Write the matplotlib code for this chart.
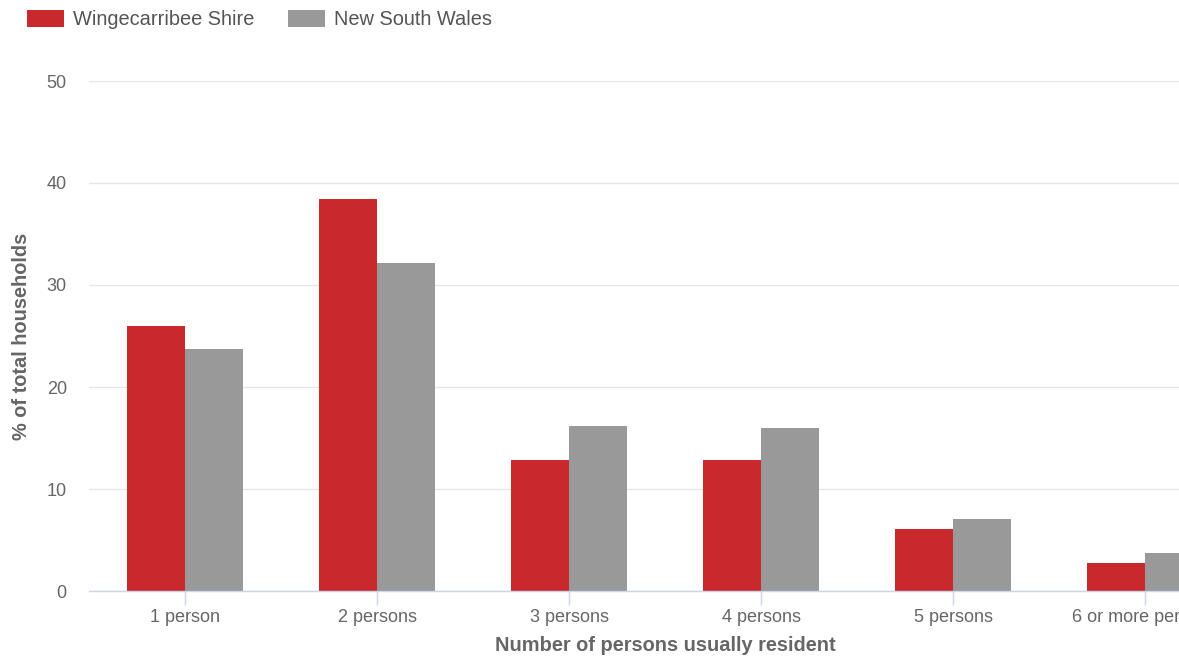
import matplotlib.pyplot as plt
import numpy as np

categories = ["1 person", "2 persons", "3 persons", "4 persons", "5 persons", "6 or more persons"]
wingecarribee = [26.0, 38.4, 12.8, 12.8, 6.1, 2.7]
nsw = [23.7, 32.2, 16.2, 16.0, 7.1, 3.7]
y_ticks = [0, 10, 20, 30, 40, 50]

plt.rcParams['font.family'] = ['Liberation Sans', 'DejaVu Sans']

W, H = 1179, 660
fig = plt.figure(figsize=(W / 100, H / 100), dpi=100)
# plot area runs past the right edge of the picture, as in the reference
ax = fig.add_axes([89 / W, 69 / H, (1241 - 89) / W, (591 - 81) / H])

x = np.arange(len(categories))
bw = 0.3
ax.bar(x - bw / 2, wingecarribee, bw, color="#c9282d", label="Wingecarribee Shire", zorder=3)
ax.bar(x + bw / 2, nsw, bw, color="#999999", label="New South Wales", zorder=3)

ax.set_xlim(-0.5, len(categories) - 0.5)
ax.set_ylim(0, 50)
ax.set_yticks(y_ticks)
ax.set_xticks(x)
ax.set_xticklabels(categories)

ax.grid(axis="y", color="#e6e6e6", linewidth=1, zorder=0)
for s in ["top", "right", "left"]:
    ax.spines[s].set_visible(False)
ax.spines["bottom"].set_color("#ccd6eb")
ax.spines["bottom"].set_linewidth(1)
ax.spines["bottom"].set_zorder(4)

ax.tick_params(axis="x", colors="#ccd6eb", length=10, width=1, pad=3,
               labelcolor="#666666", labelsize=13)
ax.tick_params(axis="y", length=0, pad=16, labelcolor="#666666", labelsize=13)

ax.set_xlabel("Number of persons usually resident", fontsize=14.4, fontweight="bold",
              color="#666666", labelpad=7)
ax.set_ylabel("% of total households", fontsize=14.4, fontweight="bold",
              color="#666666", labelpad=11)

fig.legend(loc="upper left", bbox_to_anchor=(15 / W, 1.0 + 2 / H), ncol=2, frameon=False,
           fontsize=14.4, handlelength=1.85, handleheight=0.9, handletextpad=0.45,
           columnspacing=1.7, labelcolor="#555555", borderaxespad=0.2)

fig.savefig("out.png", dpi=100)
